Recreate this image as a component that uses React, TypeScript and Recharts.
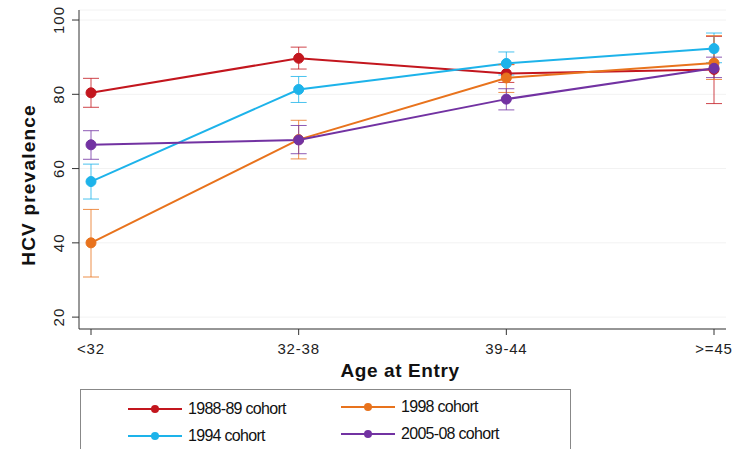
import { LineChart, Line, XAxis, YAxis, CartesianGrid, ErrorBar } from "recharts";

const ages = ["<32", "32-38", "39-44", ">=45"];

const cohort1988 = [80.4, 89.7, 85.6, 86.7];
const cohort1988Lo = [76.5, 86.8, 83.2, 77.5];
const cohort1988Hi = [84.3, 92.7, 88.0, 95.6];

const cohort1994 = [56.5, 81.3, 88.3, 92.3];
const cohort1994Lo = [51.8, 77.8, 85.2, 88.5];
const cohort1994Hi = [61.2, 84.8, 91.4, 96.5];

const cohort1998 = [40.0, 67.8, 84.4, 88.4];
const cohort1998Lo = [30.8, 62.6, 80.5, 84.0];
const cohort1998Hi = [49.0, 73.0, 88.0, 95.8];

const cohort2005 = [66.4, 67.7, 78.7, 87.0];
const cohort2005Lo = [62.5, 64.0, 75.8, 84.5];
const cohort2005Hi = [70.2, 71.6, 81.5, 90.0];

const yTicks = [20, 40, 60, 80, 100];

const series = [
  { key: "c1988", name: "1988-89 cohort", color: "#c3161e", vals: cohort1988, lo: cohort1988Lo, hi: cohort1988Hi },
  { key: "c1994", name: "1994 cohort", color: "#1db3ea", vals: cohort1994, lo: cohort1994Lo, hi: cohort1994Hi },
  { key: "c1998", name: "1998 cohort", color: "#e8731d", vals: cohort1998, lo: cohort1998Lo, hi: cohort1998Hi },
  { key: "c2005", name: "2005-08 cohort", color: "#7232a2", vals: cohort2005, lo: cohort2005Lo, hi: cohort2005Hi },
];

const data = ages.map((age, i) => {
  const row: any = { age };
  series.forEach((s) => {
    row[s.key] = s.vals[i];
    row[s.key + "Err"] = [s.vals[i] - s.lo[i], s.hi[i] - s.vals[i]];
  });
  return row;
});

const font = "'Liberation Sans', Arial, sans-serif";

const YTick = ({ x, y, payload }: any) => (
  <text
    x={x - 6}
    y={y}
    transform={`rotate(-90 ${x - 6} ${y})`}
    textAnchor="middle"
    fontSize={15}
    letterSpacing={1}
    fontFamily={font}
    fill="#222"
  >
    {payload.value}
  </text>
);

const legendItems = [
  { s: series[0], left: 127, top: 400 },
  { s: series[2], left: 340, top: 398 },
  { s: series[1], left: 127, top: 427 },
  { s: series[3], left: 340, top: 425 },
];

export default function App() {
  return (
    <div style={{ position: "absolute", left: 0, top: 0, width: 742, height: 449, overflow: "hidden", background: "#fff" }}>
      <LineChart width={742} height={449} data={data} margin={{ top: 10, right: 16, bottom: 90, left: 0 }}>
        <CartesianGrid horizontal vertical={false} stroke="#f2f2f2" />
        <XAxis
          dataKey="age"
          height={30}
          padding={{ left: 12, right: 12 }}
          tick={{ fontSize: 15, letterSpacing: 0.8, fontFamily: font, fill: "#222" }}
          tickLine={{ stroke: "#333" }}
          axisLine={{ stroke: "#333" }}
          tickSize={6}
          tickMargin={8}
        />
        <YAxis
          domain={[16.8, 102.7]}
          ticks={yTicks}
          tick={<YTick />}
          tickLine={{ stroke: "#333" }}
          axisLine={{ stroke: "#333" }}
          tickSize={7}
          width={79}
        />
        {series.map((s) => (
          <Line
            key={s.key}
            dataKey={s.key}
            stroke={s.color}
            strokeWidth={2}
            dot={{ r: 5, fill: s.color, stroke: s.color, strokeWidth: 1 }}
            isAnimationActive={false}
          >
            <ErrorBar dataKey={s.key + "Err"} width={8} stroke={s.color} strokeOpacity={0.8} strokeWidth={1} direction="y" />
          </Line>
        ))}
      </LineChart>
      <div style={{ position: "absolute", left: 0, top: 360, width: 800, textAlign: "center", fontFamily: font, fontSize: 19, letterSpacing: 0.6, fontWeight: "bold", color: "#111" }}>
        Age at Entry
      </div>
      <div
        style={{
          position: "absolute",
          left: 29,
          top: 185,
          transform: "translate(-50%, -50%) rotate(-90deg)",
          fontFamily: font,
          fontSize: 19,
          letterSpacing: 1.2,
          fontWeight: "bold",
          color: "#111",
          whiteSpace: "nowrap",
        }}
      >
        HCV prevalence
      </div>
      <div style={{ position: "absolute", left: 80, top: 389, width: 491, height: 80, border: "1px solid #888", boxSizing: "border-box" }} />
      {legendItems.map(({ s, left, top }) => (
        <div key={s.key} style={{ position: "absolute", left, top, display: "flex", alignItems: "center", fontFamily: font, fontSize: 16, color: "#111", whiteSpace: "nowrap" }}>
          <svg width={56} height={16} style={{ marginRight: 5 }}>
            <line x1={1} y1={8} x2={55} y2={8} stroke={s.color} strokeWidth={2} />
            <circle cx={28} cy={8} r={4} fill={s.color} />
          </svg>
          <span style={{ letterSpacing: -0.7 }}>{s.name}</span>
        </div>
      ))}
    </div>
  );
}
